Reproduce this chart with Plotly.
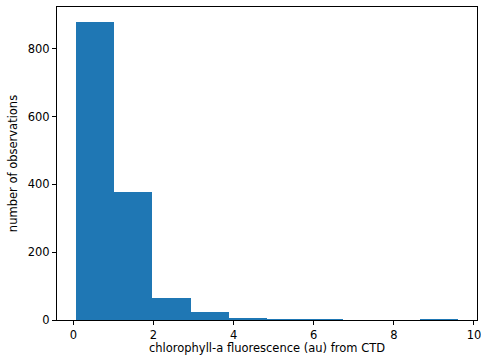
import numpy as np
import plotly.graph_objects as go

# Histogram bin edges and counts of CTD chlorophyll-a fluorescence
bin_edges = [0.07, 1.023, 1.976, 2.929, 3.882, 4.835, 5.788, 6.741, 7.694, 8.647, 9.60]
counts = [879, 377, 65, 23, 6, 2, 2, 0, 0, 2]

x_ticks = [0, 2, 4, 6, 8, 10]
y_ticks = [0, 200, 400, 600, 800]

edges = np.array(bin_edges)
centers = (edges[:-1] + edges[1:]) / 2
widths = np.diff(edges)

fig = go.Figure(go.Bar(
    x=centers, y=counts, width=widths,
    marker=dict(color="#1f77b4", line=dict(width=0)),
))

span = edges[-1] - edges[0]
font = dict(family="DejaVu Sans", size=11.5, color="black")
axis_common = dict(
    showgrid=False, zeroline=False, showline=True, linecolor="black",
    linewidth=1, mirror=True, ticks="outside", ticklen=4, tickwidth=1,
    tickcolor="black", tickfont=font, automargin=False,
    ticklabeloverflow="allow",
)
fig.update_layout(
    width=481, height=355,
    margin=dict(l=57, r=4, t=7, b=35),
    paper_bgcolor="white", plot_bgcolor="white",
    bargap=0, showlegend=False,
    xaxis=dict(range=[edges[0] - 0.05 * span, edges[-1] + 0.05 * span],
               tickvals=x_ticks,
               title=dict(text="chlorophyll-a fluorescence (au) from CTD",
                          font=font, standoff=7),
               **axis_common),
    yaxis=dict(range=[0, max(counts) * 1.05], tickvals=y_ticks,
               title=dict(text="number of observations", font=font, standoff=7),
               **axis_common),
)

fig.write_html("out.html")
